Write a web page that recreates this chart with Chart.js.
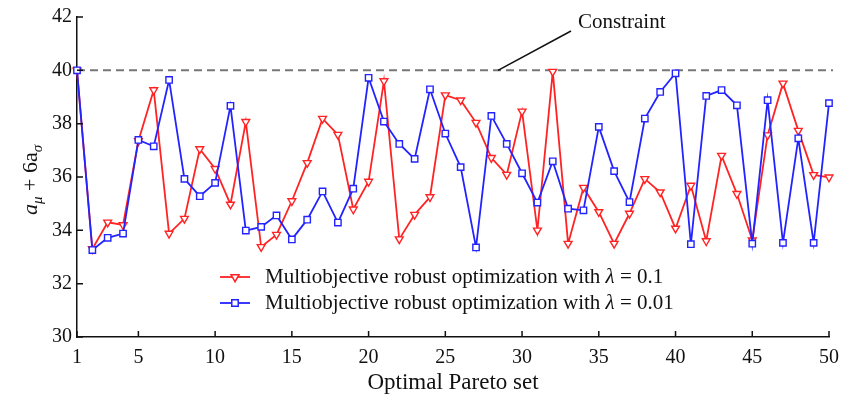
<!DOCTYPE html>
<html>
<head>
<meta charset="utf-8">
<script src="https://cdn.jsdelivr.net/npm/chart.js@4"></script>
<style>
  html, body { margin: 0; padding: 0; background: #fff; }
  #wrap { width: 856px; height: 402px; position: relative; }
</style>
</head>
<body>
<div id="wrap"><canvas id="chart"></canvas></div>
<script>
// ── data ──
const paretoIdx = Array.from({ length: 50 }, (_, i) => i + 1);
const lambda01 = [40, 33.3, 34.3, 34.2, 37.35, 39.26, 33.88, 34.44, 37.05, 36.31,
  34.97, 38.07, 33.38, 33.84, 35.1, 36.53, 38.19, 37.59, 34.79, 35.83,
  39.6, 33.67, 34.59, 35.25, 39.07, 38.88, 38.04, 36.72, 36.09, 38.46,
  34.0, 39.95, 33.5, 35.6, 34.69, 33.5, 34.63, 35.93, 35.43, 34.07,
  35.68, 33.6, 36.8, 35.37, 33.63, 37.57, 39.51, 37.74, 36.08, 35.99];
const lambda001 = [40, 33.26, 33.72, 33.88, 37.39, 37.15, 39.64, 35.93, 35.28, 35.78,
  38.67, 33.99, 34.13, 34.56, 33.66, 34.4, 35.46, 34.29, 35.56, 39.72,
  38.08, 37.24, 36.68, 39.29, 37.63, 36.37, 33.36, 38.29, 37.24, 36.14,
  35.04, 36.59, 34.81, 34.75, 37.88, 36.22, 35.06, 38.19, 39.19, 39.89,
  33.48, 39.04, 39.26, 38.69, 33.5, 38.88, 33.53, 37.45, 33.53, 38.77];
const xTicks = [1, 5, 10, 15, 20, 25, 30, 35, 40, 45, 50];
const yTicks = [30, 32, 34, 36, 38, 40, 42];
const constraint = 40;
const seriesNames = ["Multiobjective robust optimization with ", "Multiobjective robust optimization with "];
const lambdaVals = ["0.1", "0.01"];

const RED = "rgb(255,35,35)";
const BLUE = "rgb(35,35,255)";
const SERIF = "'Liberation Serif', 'DejaVu Serif', serif";

// ── extras: inward ticks, constraint, legend, y title ──
const extras = {
  id: "extras",
  beforeDatasetsDraw(chart) {
    const { ctx, chartArea: a, scales: { y } } = chart;
    ctx.save();
    ctx.strokeStyle = "#777";
    ctx.lineWidth = 2;
    ctx.setLineDash([8, 5]);
    const cy = y.getPixelForValue(constraint);
    ctx.beginPath();
    ctx.moveTo(a.left, cy);
    ctx.lineTo(a.right + 4, cy);
    ctx.stroke();
    ctx.restore();
  },
  afterDraw(chart) {
    const { ctx, chartArea: a, scales: { x, y } } = chart;
    ctx.save();
    // inward ticks
    ctx.strokeStyle = "#111";
    ctx.lineWidth = 1.5;
    ctx.beginPath();
    xTicks.forEach(v => {
      const px = x.getPixelForValue(v);
      ctx.moveTo(px, a.bottom);
      ctx.lineTo(px, a.bottom - 6);
    });
    yTicks.forEach(v => {
      const py = y.getPixelForValue(v);
      ctx.moveTo(a.left, py);
      ctx.lineTo(a.left + 6, py);
    });
    ctx.stroke();

    // constraint callout
    const cy = y.getPixelForValue(constraint);
    ctx.strokeStyle = "#111";
    ctx.lineWidth = 1.5;
    ctx.beginPath();
    ctx.moveTo(498, cy);
    ctx.lineTo(571, 31);
    ctx.stroke();
    ctx.fillStyle = "#111";
    ctx.font = "21px " + SERIF;
    ctx.textBaseline = "middle";
    ctx.fillText("Constraint", 578, 22);

    // legend
    const rows = [
      { color: RED, style: "triangle", rot: 180, y: 277 },
      { color: BLUE, style: "rect", rot: 0, y: 303 }
    ];
    rows.forEach((r, i) => {
      ctx.strokeStyle = r.color;
      ctx.lineWidth = 1.8;
      ctx.beginPath();
      ctx.moveTo(220, r.y);
      ctx.lineTo(250, r.y);
      ctx.stroke();
      ctx.fillStyle = "#fff";
      ctx.lineWidth = 1.4;
      Chart.helpers.drawPoint(ctx, { pointStyle: r.style, rotation: r.rot, radius: 4.5, borderWidth: 1.4 }, 235, r.y);
      ctx.fill();
      ctx.stroke();
      ctx.fillStyle = "#111";
      ctx.font = "21px " + SERIF;
      let tx = 265;
      ctx.fillText(seriesNames[i], tx, r.y);
      tx += ctx.measureText(seriesNames[i]).width;
      ctx.font = "italic 21px " + SERIF;
      ctx.fillText("\u03bb", tx, r.y);
      tx += ctx.measureText("\u03bb").width;
      ctx.font = "21px " + SERIF;
      ctx.fillText(" = " + lambdaVals[i], tx, r.y);
    });

    // y title: a_mu + 6a_sigma
    ctx.translate(30, 180);
    ctx.rotate(-Math.PI / 2);
    ctx.textBaseline = "alphabetic";
    const parts = [
      { t: "a", f: "italic 22px " + SERIF, dy: 0 },
      { t: "\u03bc", f: "italic 15px " + SERIF, dy: 5 },
      { t: " + 6a", f: "22px " + SERIF, dy: 0 },
      { t: "\u03c3", f: "italic 15px " + SERIF, dy: 5 }
    ];
    let w = 0;
    parts.forEach(p => { ctx.font = p.f; w += ctx.measureText(p.t).width; });
    let px = -w / 2;
    parts.forEach(p => {
      ctx.font = p.f;
      ctx.fillText(p.t, px, 7 + p.dy);
      px += ctx.measureText(p.t).width;
    });
    ctx.restore();
  }
};

new Chart(document.getElementById("chart"), {
  type: "line",
  data: {
    labels: paretoIdx,
    datasets: [
      {
        label: "lambda 0.1",
        data: paretoIdx.map((v, i) => ({ x: v, y: lambda01[i] })),
        borderColor: RED,
        backgroundColor: "#fff",
        borderWidth: 1.8,
        pointStyle: "triangle",
        rotation: 180,
        pointRadius: 4.5,
        pointBorderWidth: 1.4,
        pointBackgroundColor: "#fff",
        pointBorderColor: RED,
        tension: 0,
        clip: false,
        order: 2
      },
      {
        label: "lambda 0.01",
        data: paretoIdx.map((v, i) => ({ x: v, y: lambda001[i] })),
        borderColor: BLUE,
        backgroundColor: "#fff",
        borderWidth: 1.8,
        pointStyle: "rect",
        pointRadius: 4.5,
        pointBorderWidth: 1.4,
        pointBackgroundColor: "#fff",
        pointBorderColor: BLUE,
        tension: 0,
        clip: false,
        order: 1
      }
    ]
  },
  options: {
    responsive: true,
    maintainAspectRatio: false,
    animation: false,
    layout: { padding: { top: 16, right: 27, left: 0, bottom: 0 } },
    plugins: { legend: { display: false }, tooltip: { enabled: false } },
    scales: {
      x: {
        type: "linear",
        min: 1,
        max: 50,
        afterBuildTicks: s => { s.ticks = xTicks.map(v => ({ value: v })); },
        afterFit: s => { s.height = 65; },
        grid: { display: false, drawTicks: false },
        border: { display: true, color: "#111", width: 1.5 },
        ticks: { color: "#111", font: { family: SERIF, size: 20 }, padding: 9, maxRotation: 0, autoSkip: false },
        title: { display: true, text: "Optimal Pareto set", color: "#111", font: { family: SERIF, size: 23 }, padding: { top: 0, bottom: 5 } }
      },
      y: {
        min: 30,
        max: 42,
        afterBuildTicks: s => { s.ticks = yTicks.map(v => ({ value: v })); },
        afterFit: s => { s.width = 77; },
        grid: { display: false, drawTicks: false },
        border: { display: true, color: "#111", width: 1.5 },
        ticks: { color: "#111", font: { family: SERIF, size: 20 }, padding: 5 }
      }
    }
  },
  plugins: [extras]
});
</script>
</body>
</html>
